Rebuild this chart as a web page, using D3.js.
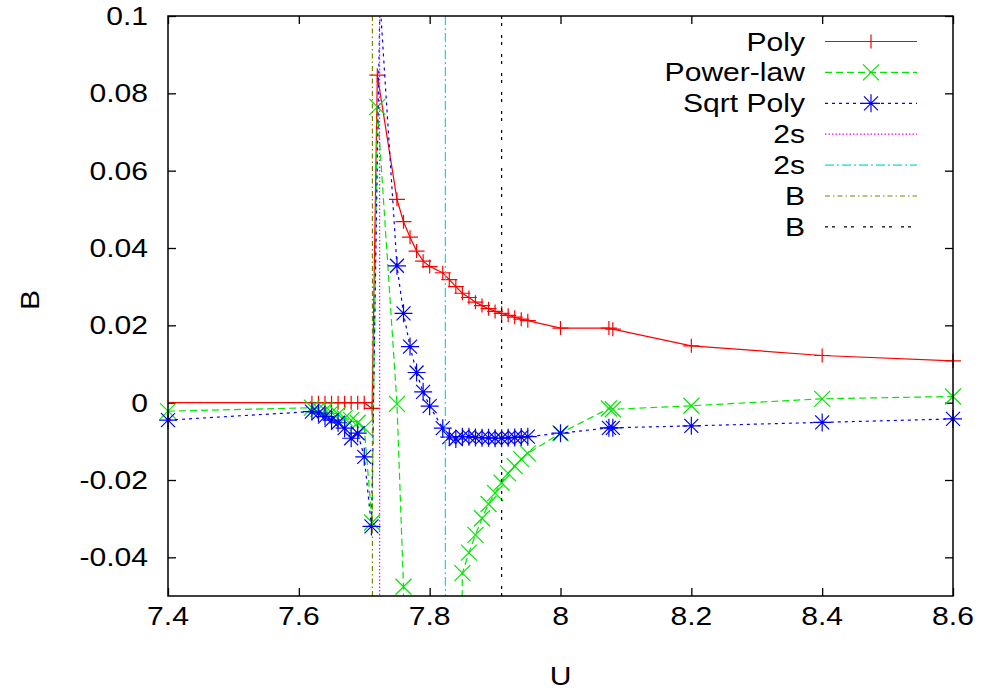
<!DOCTYPE html>
<html>
<head>
<meta charset="utf-8">
<script src="https://cdn.jsdelivr.net/npm/d3@7"></script>
<style>
  body { margin: 0; background: #fff; }
  text { font-family: "Liberation Sans", Arial, sans-serif; fill: #000; }
</style>
</head>
<body>
<svg width="983" height="693"></svg>
<script>
// valores (U, B)
const poly = [
  [7.3, 0], [7.62, 0], [7.63, 0], [7.64, 0], [7.65, 0], [7.66, 0], [7.67, 0], [7.68, 0], [7.69, 0], [7.70, 0],
  [7.712, -0.0015], [7.72, 0.0847],
  [7.75, 0.0526], [7.76, 0.0468], [7.77, 0.0428], [7.78, 0.0392], [7.79, 0.0366], [7.80, 0.0352],
  [7.82, 0.0336], [7.83, 0.0318], [7.84, 0.0300], [7.85, 0.0283], [7.86, 0.0272], [7.87, 0.0260],
  [7.88, 0.0251], [7.89, 0.0243], [7.90, 0.0236], [7.91, 0.0231], [7.92, 0.0226], [7.93, 0.0221],
  [7.94, 0.0216], [7.95, 0.0212],
  [8.0, 0.0193], [8.074, 0.0193], [8.08, 0.0190], [8.2, 0.0147], [8.4, 0.0122], [8.6, 0.0108]
];

const powerLaw = [
  [7.4, -0.0022], [7.62, -0.0013], [7.63, -0.0016], [7.64, -0.0020], [7.65, -0.0025], [7.66, -0.0030],
  [7.67, -0.0040], [7.68, -0.0045], [7.69, -0.0052], [7.70, -0.0065], [7.712, -0.031], [7.72, 0.0765],
  [7.75, -0.0003], [7.76, -0.0476], [7.80, -1.0],
  [7.85, -0.0441], [7.86, -0.0388], [7.87, -0.0342], [7.88, -0.0299], [7.89, -0.0262], [7.90, -0.0234],
  [7.91, -0.0207], [7.92, -0.0183], [7.93, -0.0164], [7.94, -0.0146], [7.95, -0.0131],
  [8.0, -0.0079], [8.074, -0.0015], [8.08, -0.0017], [8.2, -0.0008], [8.4, 0.0010], [8.6, 0.0016]
];

const sqrtPoly = [
  [7.4, -0.0045], [7.62, -0.0023], [7.63, -0.0027], [7.64, -0.0036], [7.65, -0.0045], [7.66, -0.0052],
  [7.67, -0.0066], [7.68, -0.0092], [7.69, -0.0079], [7.70, -0.0140], [7.711, -0.032], [7.724, 0.104],
  [7.75, 0.0354], [7.76, 0.0231], [7.77, 0.0145], [7.78, 0.0078], [7.79, 0.0028], [7.80, -0.0009],
  [7.82, -0.0066], [7.83, -0.0089], [7.84, -0.0094], [7.85, -0.0088], [7.86, -0.0088], [7.87, -0.0090],
  [7.88, -0.0091], [7.89, -0.0091], [7.90, -0.0092], [7.91, -0.0092], [7.92, -0.0091], [7.93, -0.0090],
  [7.94, -0.0089], [7.95, -0.0088],
  [8.0, -0.0079], [8.074, -0.0065], [8.08, -0.0065], [8.2, -0.0060], [8.4, -0.0051], [8.6, -0.0042]
];

// lineas verticales (2s, 2s, B, B)
const vlineU = [7.7235, 7.824, 7.7125, 7.910];
const legendLabels = ["Poly", "Power-law", "Sqrt Poly", "2s", "2s", "B", "B"];
const xTicks = [7.4, 7.6, 7.8, 8.0, 8.2, 8.4, 8.6];
const yTicks = [-0.04, -0.02, 0, 0.02, 0.04, 0.06, 0.08, 0.1];

const svg = d3.select('svg');
const pLeft = 168, pRight = 953, pTop = 16, pBottom = 596;
const sx = 1.18; // el texto del original es mas ancho
const fs = 25.5;

const x = d3.scaleLinear().domain([7.4, 8.6]).range([pLeft, pRight]);
const y = d3.scaleLinear().domain([-0.05, 0.1]).range([pBottom, pTop]);

svg.append('defs').append('clipPath').attr('id', 'clip')
  .append('rect').attr('x', pLeft).attr('y', pTop).attr('width', pRight - pLeft).attr('height', pBottom - pTop);

// ticks hacia dentro en los cuatro lados
const tick = 8;
svg.append('g').attr('transform', `translate(0,${pBottom})`)
  .call(d3.axisBottom(x).tickValues(xTicks).tickSizeInner(-tick).tickSizeOuter(0).tickFormat(''));
svg.append('g').attr('transform', `translate(0,${pTop})`)
  .call(d3.axisTop(x).tickValues(xTicks).tickSizeInner(-tick).tickSizeOuter(0).tickFormat(''));
svg.append('g').attr('transform', `translate(${pLeft},0)`)
  .call(d3.axisLeft(y).tickValues(yTicks).tickSizeInner(-tick).tickSizeOuter(0).tickFormat(''));
svg.append('g').attr('transform', `translate(${pRight},0)`)
  .call(d3.axisRight(y).tickValues(yTicks).tickSizeInner(-tick).tickSizeOuter(0).tickFormat(''));
svg.selectAll('.domain').remove();
svg.selectAll('.tick line').attr('stroke', '#000').attr('stroke-width', 1.3);

// etiquetas
function label(tx, ty, str, anchor, rot) {
  svg.append('text')
    .attr('transform', `translate(${tx},${ty})` + (rot ? ` rotate(${rot})` : '') + ` scale(${sx},1)`)
    .attr('text-anchor', anchor)
    .attr('font-size', fs)
    .text(str);
}
xTicks.forEach(d => label(x(d), 625, String(d), 'middle'));
yTicks.forEach(d => label(148, y(d) + 9, String(+d.toFixed(2)), 'end'));
label(x(8.0), 685, 'U', 'middle');
label(39, 300, 'B', 'middle', -90);

// series
const series = [
  { data: poly, color: '#ff0000', dash: null, marker: 'M-8,0H8M0,-7V7' },
  { data: powerLaw, color: '#00e800', dash: '7,4', marker: 'M-8,-8L8,8M-8,8L8,-8' },
  { data: sqrtPoly, color: '#0000ff', dash: '3,4', marker: 'M-9,0H9M0,-9V9M-7,-7L7,7M-7,7L7,-7' }
];
const vstyles = [
  { color: '#ff00ff', dash: '1.5,2' },
  { color: '#00e0e0', dash: '9,3,2,3' },
  { color: '#808000', dash: '5,3,1.5,3' },
  { color: '#000000', dash: '3,4,3,9' }
];

const line = d3.line().x(d => x(d[0])).y(d => y(d[1]));
const plot = svg.append('g');

series.forEach(s => {
  plot.append('path')
    .attr('clip-path', 'url(#clip)')
    .attr('d', line(s.data))
    .attr('fill', 'none')
    .attr('stroke', s.color)
    .attr('stroke-width', 1.2)
    .attr('stroke-dasharray', s.dash);
  plot.selectAll(null)
    .data(s.data.filter(d => d[0] >= 7.4 && d[0] <= 8.6 && d[1] >= -0.05 && d[1] <= 0.1))
    .join('path')
    .attr('transform', d => `translate(${x(d[0])},${y(d[1])})`)
    .attr('d', s.marker)
    .attr('fill', 'none')
    .attr('stroke', s.color)
    .attr('stroke-width', 1.2);
});

vlineU.forEach((u, i) => {
  plot.append('line')
    .attr('x1', x(u)).attr('x2', x(u))
    .attr('y1', pTop).attr('y2', pBottom)
    .attr('stroke', vstyles[i].color)
    .attr('stroke-width', 1.2)
    .attr('stroke-dasharray', vstyles[i].dash);
});

// leyenda
const legendStyles = series.concat(vstyles);
legendLabels.forEach((name, i) => {
  const ly = 41.5 + i * 30.9;
  label(805, ly + 9, name, 'end');
  const st = legendStyles[i];
  svg.append('line')
    .attr('x1', 825).attr('x2', 917).attr('y1', ly).attr('y2', ly)
    .attr('stroke', st.color).attr('stroke-width', 1.2)
    .attr('stroke-dasharray', st.dash);
  if (st.marker) {
    svg.append('path')
      .attr('transform', `translate(871,${ly})`)
      .attr('d', st.marker)
      .attr('fill', 'none').attr('stroke', st.color).attr('stroke-width', 1.2);
  }
});

// marco
svg.append('rect')
  .attr('x', pLeft).attr('y', pTop).attr('width', pRight - pLeft).attr('height', pBottom - pTop)
  .attr('fill', 'none').attr('stroke', '#000').attr('stroke-width', 1.5);
</script>
</body>
</html>
